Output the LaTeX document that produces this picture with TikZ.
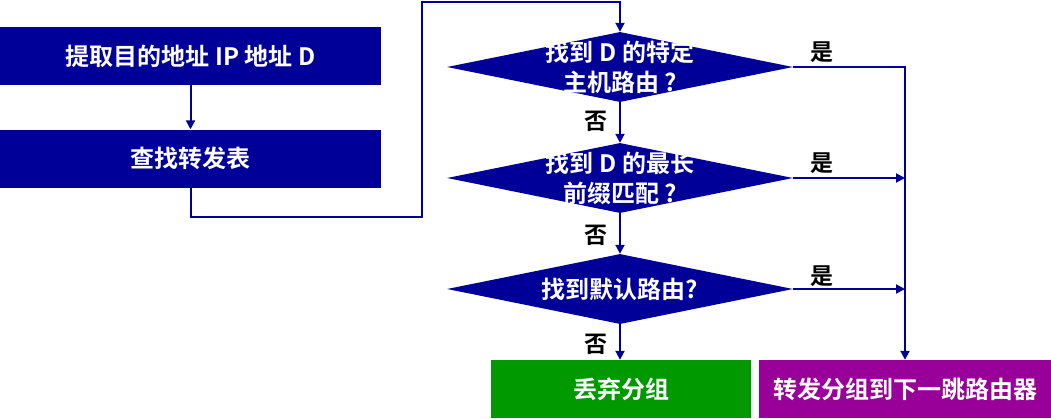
\documentclass[tikz,border=0pt]{standalone}
\usepackage{fontspec}
\setmainfont{Noto Sans CJK SC}[BoldFont={* Bold}]
\usetikzlibrary{shapes.geometric,arrows.meta}
\definecolor{navy}{RGB}{0,0,153}
\definecolor{okgreen}{RGB}{0,153,0}
\definecolor{fwdpurple}{RGB}{153,0,153}
\tikzset{
  box/.style={draw=none,fill=#1,minimum height=58pt,inner sep=0pt,text=white,font=\fontsize{24}{28}\selectfont\bfseries},
  dia/.style={shape=diamond,fill=navy,draw=none,inner sep=0pt,minimum width=346pt,minimum height=70pt},
  diatext/.style={text=white,align=center,font=\fontsize{24}{30}\selectfont\bfseries},
  lbl/.style={text=black,font=\fontsize{23}{26}\selectfont\bfseries},
  conn/.style={draw=navy,line width=2pt},
  arr/.style={conn,-{Triangle[length=9pt,width=9pt]}}
}
\begin{document}
\begin{tikzpicture}[x=1pt,y=-1pt]
\useasboundingbox (0,0) rectangle (1051,418);
\node[box=navy,minimum width=381pt] (b1) at (190.5,56) {提取目的地址 IP 地址 D};
\node[box=navy,minimum width=381pt] (b2) at (190.5,158.5) {查找转发表};
\node[dia] (d1) at (620,67) {};
\node[dia] (d2) at (620,178) {};
\node[dia] (d3) at (620,289) {};
\node[diatext] (t1) at (620,67) {找到 D 的特定\\主机路由 ?};
\node[diatext] (t2) at (620,178) {找到 D 的最长\\前缀匹配 ?};
\node[diatext] (t3) at (620,289) {找到默认路由?};
\node[box=okgreen,minimum width=260pt] (g) at (621,389) {丢弃分组};
\node[box=fwdpurple,minimum width=292pt] (p) at (905,389) {转发分组到下一跳路由器};
\coordinate (c1) at (422,217);
\coordinate (c2) at (422,2);
\coordinate (j2) at (p.north |- d2.east);
\coordinate (j3) at (p.north |- d3.east);
\draw[arr] (b1.south) -- (b2.north);
\draw[arr] (b2.south) |- (c1) -- (c2) -| (d1.north);
\draw[arr] (d1.south) -- (d2.north);
\draw[arr] (d2.south) -- (d3.north);
\draw[arr] (d3.south) -- (d3.south |- g.north);
\draw[arr] (d1.east) -| (p.north);
\draw[arr] (d2.east) -- (j2);
\draw[arr] (d3.east) -- (j3);
\node[lbl] (y1) at (822,52) {是};
\node[lbl] (y2) at (822,163) {是};
\node[lbl] (y3) at (822,276) {是};
\node[lbl] (n1) at (596,121) {否};
\node[lbl] (n2) at (596,235) {否};
\node[lbl] (n3) at (596,344) {否};
\end{tikzpicture}
\end{document}
